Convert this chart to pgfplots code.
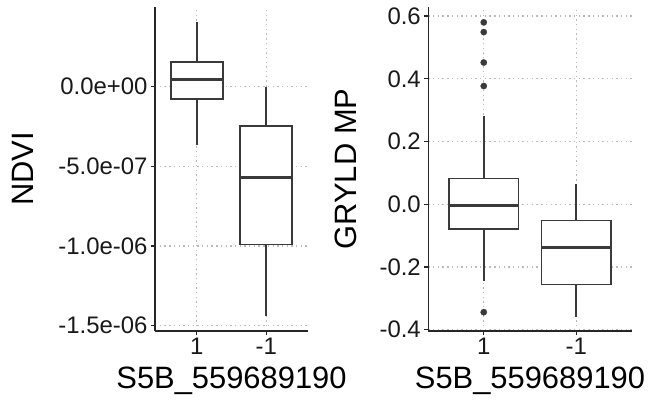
\documentclass[border=0pt]{standalone}
\usepackage{fontspec}
\setmainfont{Liberation Sans}
\usepackage{pgfplots}
\pgfplotsset{compat=1.18}
\usepgfplotslibrary{statistics}

\definecolor{boxcol}{HTML}{3A3A3A}
\definecolor{gridcol}{HTML}{BBBBBB}

\pgfplotsset{
 common/.style={
  scale only axis,
  anchor=south west,
  xmin=0.4, xmax=2.6,
  xtick={1,2}, xticklabels={1,-1},
  axis x line*=bottom, axis y line*=left,
  axis line style={line width=1.2bp, color=black!85},
  tick style={line width=1.2bp, color=black!85},
  tick align=outside, major tick length=4bp,
  grid=major,
  major grid style={color=gridcol, line width=1.3bp, dash pattern=on 1.4bp off 3.3bp},
  tick label style={font=\fontsize{24}{28}\selectfont, text=black!90},
  label style={font=\fontsize{31}{36}\selectfont},
  scaled y ticks=false,
  boxplot/draw direction=y,
  boxplot/box extend=0.75,
  boxplot/whisker extend=0,
  boxplot/every median/.style={line width=3.2bp},
 },
 bx/.style={draw=boxcol, line width=1.8bp, fill=white, solid},
}

\begin{document}
\begin{tikzpicture}
\useasboundingbox (0,0) rectangle (657bp,402bp);

% Left panel: NDVI (values in units of 1e-7)
\begin{axis}[common,
  at={(155bp,71bp)}, width=153bp, height=324bp,
  ymin=-15.33, ymax=4.996,
  ytick={-15,-10,-5,0},
  yticklabels={-1.5e-06,-1.0e-06,-5.0e-07,0.0e+00},
  xlabel={S5B\_559689190}, ylabel={NDVI},
  xlabel style={at={(axis description cs:0.5,-0.176)}, anchor=base},
  ylabel style={at={(axis description cs:-0.8627,0.5)}, anchor=center},
]
\addplot[bx, boxplot prepared={lower whisker=-3.65, lower quartile=-0.77,
  median=0.46, upper quartile=1.57, upper whisker=4.07, draw position=1}]
  coordinates {};
\addplot[bx, boxplot prepared={lower whisker=-14.41, lower quartile=-9.9,
  median=-5.68, upper quartile=-2.46, upper whisker=0, draw position=2}]
  coordinates {};
\end{axis}

% Right panel: GRYLD MP
\begin{axis}[common,
  at={(428.3bp,71bp)}, width=203.4bp, height=324bp,
  ymin=-0.404, ymax=0.629,
  ytick={-0.4,-0.2,0,0.2,0.4,0.6},
  yticklabels={-0.4,-0.2,0.0,0.2,0.4,0.6},
  xlabel={S5B\_559689190}, ylabel={GRYLD MP},
  xlabel style={at={(axis description cs:0.5,-0.176)}, anchor=base},
  ylabel style={at={(axis description cs:-0.403,0.5)}, anchor=center},
]
\addplot[bx, mark=*, mark size=3.2bp, mark options={fill=boxcol, draw=boxcol, line width=0.2bp},
  boxplot prepared={lower whisker=-0.246, lower quartile=-0.080,
  median=-0.005, upper quartile=0.082, upper whisker=0.282, draw position=1}]
  table[row sep=\\, y index=0] {0.580\\ 0.549\\ 0.452\\ 0.377\\ -0.344\\};
\addplot[bx, boxplot prepared={lower whisker=-0.358, lower quartile=-0.256,
  median=-0.138, upper quartile=-0.052, upper whisker=0.064, draw position=2}]
  coordinates {};
\end{axis}
\end{tikzpicture}
\end{document}
